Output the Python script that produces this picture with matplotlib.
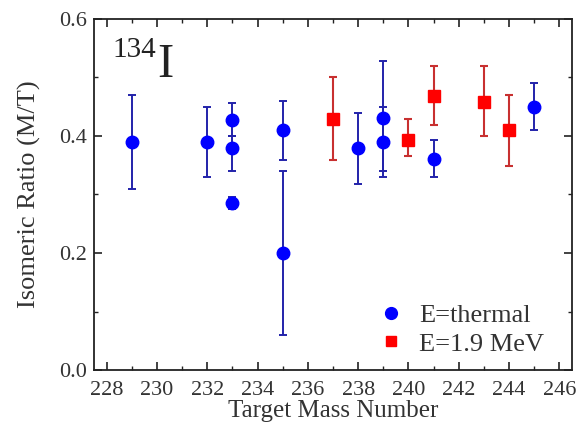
import matplotlib
matplotlib.use("Agg")
import matplotlib.pyplot as plt
from matplotlib.ticker import MultipleLocator
from matplotlib.lines import Line2D

plt.rcParams['font.family'] = ['Liberation Serif', 'DejaVu Serif']

# Thermal data
th_x = [229, 232, 233, 233, 233, 235, 235, 238, 239, 239, 241, 245]
th_y = [0.39, 0.39, 0.428, 0.38, 0.285, 0.41, 0.20, 0.38, 0.43, 0.39, 0.361, 0.449]
th_lo = [0.31, 0.33, 0.40, 0.34, 0.275, 0.359, 0.059, 0.318, 0.34, 0.33, 0.33, 0.41]
th_hi = [0.47, 0.45, 0.456, 0.40, 0.295, 0.459, 0.34, 0.44, 0.529, 0.45, 0.393, 0.49]

# 1.9 MeV data
fa_x = [237, 240, 241, 243, 244]
fa_y = [0.429, 0.393, 0.469, 0.458, 0.41]
fa_lo = [0.359, 0.365, 0.419, 0.40, 0.349]
fa_hi = [0.50, 0.429, 0.52, 0.52, 0.47]

W, H = 578, 430
fig = plt.figure(figsize=(W / 100, H / 100), dpi=100)
ax = fig.add_axes([94 / W, 1 - 370 / H, (572 - 94) / W, (370 - 19) / H])

th_err = [[y - l for y, l in zip(th_y, th_lo)], [h - y for y, h in zip(th_y, th_hi)]]
fa_err = [[y - l for y, l in zip(fa_y, fa_lo)], [h - y for y, h in zip(fa_y, fa_hi)]]

ax.errorbar(th_x, th_y, yerr=th_err, fmt='o', color='#0000ff', ecolor='#2222aa',
            ms=9, elinewidth=1.4, capsize=3.2, capthick=1.4)
ax.errorbar(fa_x, fa_y, yerr=fa_err, fmt='s', color='#ff0000', ecolor='#c83030',
            ms=8, elinewidth=1.5, capsize=3.2, capthick=1.5)

ax.set_xlim(227.5, 246.5)
ax.set_ylim(0.0, 0.6)
ax.xaxis.set_major_locator(MultipleLocator(2))
ax.xaxis.set_minor_locator(MultipleLocator(1))
ax.yaxis.set_major_locator(MultipleLocator(0.2))
ax.yaxis.set_minor_locator(MultipleLocator(0.1))
ax.yaxis.set_major_formatter(plt.FuncFormatter(lambda v, p: f"{v:.1f}"))
ax.tick_params(which='both', direction='in', top=True, right=True, labelsize=16,
               colors='#222222', labelcolor='#333333')
ax.tick_params(which='major', length=6, width=1.2)
ax.tick_params(which='minor', length=3, width=1.0)
ax.tick_params(axis='x', which='major', pad=8)
ax.tick_params(axis='y', which='major', pad=5)
for s in ax.spines.values():
    s.set_linewidth(1.3)
    s.set_color('#222222')

ax.set_xlabel('Target Mass Number', fontsize=18, color='#333333', labelpad=0)
ax.set_ylabel('Isomeric Ratio (M/T)', fontsize=19, color='#333333', labelpad=13)

fig.text(112 / W, 1 - 57 / H, '134', fontsize=21, va='baseline', ha='left', color='#222222')
fig.text(157 / W, 1 - 77 / H, 'I', fontsize=35, va='baseline', ha='left', color='#222222')

handles = [Line2D([], [], ls='none', marker='o', color='#0000ff', ms=8.5),
           Line2D([], [], ls='none', marker='s', color='#ff0000', ms=6.5)]
leg = fig.legend(handles, ['E=thermal', 'E=1.9 MeV'], loc='center left',
                 bbox_to_anchor=(378 / W, 1 - 329.5 / H), frameon=False, fontsize=19,
                 handlelength=1.0, handletextpad=0.55, borderpad=0, borderaxespad=0,
                 labelspacing=0.2)
for t in leg.get_texts():
    t.set_color('#333333')

fig.savefig('out.png', dpi=100)
